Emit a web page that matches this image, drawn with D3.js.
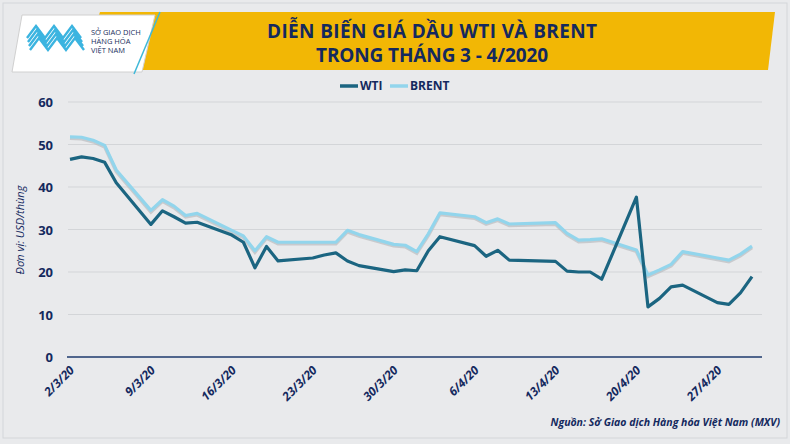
<!DOCTYPE html>
<html><head><meta charset="utf-8">
<script src="https://cdn.jsdelivr.net/npm/d3@7"></script>
<style>body{margin:0;background:#e8e9eb;}svg{display:block;font-family:"Open Sans",Roboto,sans-serif;}</style>
</head><body><svg id="c" width="790" height="444"></svg>
<script>
const dates = ["2020-03-02","2020-03-03","2020-03-04","2020-03-05","2020-03-06","2020-03-09","2020-03-10","2020-03-11","2020-03-12","2020-03-13","2020-03-16","2020-03-17","2020-03-18","2020-03-19","2020-03-20","2020-03-23","2020-03-24","2020-03-25","2020-03-26","2020-03-27","2020-03-30","2020-03-31","2020-04-01","2020-04-02","2020-04-03","2020-04-06","2020-04-07","2020-04-08","2020-04-09","2020-04-13","2020-04-14","2020-04-15","2020-04-16","2020-04-17","2020-04-20","2020-04-21","2020-04-22","2020-04-23","2020-04-24","2020-04-27","2020-04-28","2020-04-29","2020-04-30"];
const wti = [46.5,47.1,46.7,45.8,41,31.2,34.4,33,31.5,31.7,28.7,27,21,26,22.6,23.3,24,24.5,22.6,21.5,20.1,20.5,20.3,25,28.3,26.2,23.7,25.1,22.8,22.5,20.2,20,20,18.3,37.6,11.8,13.8,16.5,16.9,12.8,12.4,15.1,18.9];
const brent = [51.8,51.7,51,49.8,44,34.5,37,35.5,33.3,33.8,29.8,28.5,25,28.3,27,27,27,27,29.8,28.8,26.5,26.3,24.8,29,33.9,33,31.6,32.5,31.3,31.6,29.1,27.5,27.6,27.8,25.2,19.3,20.5,21.8,24.8,23.3,22.8,24.2,26.1];
const tickLabels = ["2/3/20","9/3/20","16/3/20","23/3/20","30/3/20","6/4/20","13/4/20","20/4/20","27/4/20"];
const tickDates = ["2020-03-02","2020-03-09","2020-03-16","2020-03-23","2020-03-30","2020-04-06","2020-04-13","2020-04-20","2020-04-27"];
const yTicks = [0,10,20,30,40,50,60];

const svg = d3.select("#c");
const navy = "#14295e";
const parse = d3.timeParse("%Y-%m-%d");
const x = d3.scaleTime().domain([parse(dates[0]), parse(dates[dates.length-1])]).range([70,752]);
const y = d3.scaleLinear().domain([0,60]).range([357,102]);

svg.append("rect").attr("width",790).attr("height",444).attr("fill","#e9eaec");
svg.append("rect").attr("x",3).attr("y",3).attr("width",784).attr("height",435).attr("fill","none").attr("stroke","#d4d6d9");

svg.append("path").attr("d","M100,12 L775,12 L768,70 L80,70 Z").attr("fill","#f2b705");
svg.append("path").attr("d","M22,15 L155,15 L142,72 L12,72 Z").attr("fill","#ffffff").attr("stroke","#d0d0d0");
svg.append("line").attr("x1",160).attr("y1",12).attr("x2",134).attr("y2",74).attr("stroke","#3fb8d8").attr("stroke-width",1.5);
const lg = svg.append("g").attr("fill","none").attr("stroke","#3bb4e0").attr("stroke-width",2.4);
for(let i=0;i<4;i++){lg.append("path").attr("d",`M27,44 l9,-12 l9,12 l9,-12 l9,12 l9,-12 l9,12`).attr("transform",`translate(${i*1},${i*4-6})`);}
const lt = svg.append("g").attr("fill","#1a2f5e").attr("font-size",7.5).attr("font-family","'Open Sans',sans-serif");
["SỞ GIAO DỊCH","HÀNG HÓA","VIỆT NAM"].forEach((t,i)=>lt.append("text").attr("x",91).attr("y",35+i*9).text(t));

const tt = svg.append("g").attr("fill",navy).attr("font-weight","bold").attr("font-size",19).attr("text-anchor","middle").attr("font-family","'Open Sans',sans-serif");
tt.append("text").attr("x",432).attr("y",38).attr("textLength",330).text("DIỄN BIẾN GIÁ DẦU WTI VÀ BRENT");
tt.append("text").attr("x",432).attr("y",62).attr("textLength",232).text("TRONG THÁNG 3 - 4/2020");

svg.append("g").selectAll("line").data(yTicks.filter(d=>d>0)).join("line")
 .attr("x1",68).attr("x2",762).attr("y1",d=>y(d)).attr("y2",d=>y(d)).attr("stroke","#d3d5d8").attr("stroke-width",1);
svg.append("line").attr("x1",67).attr("x2",762).attr("y1",y(0)).attr("y2",y(0)).attr("stroke","#1d3a6e").attr("stroke-width",1.5);

svg.append("g").selectAll("text").data(yTicks).join("text")
 .attr("x",53).attr("y",d=>y(d)+5).attr("text-anchor","end").attr("font-size",13).attr("font-weight","bold").attr("fill",navy).text(d=>d);
svg.append("text").attr("transform","translate(24,230) rotate(-90)").attr("text-anchor","middle")
 .attr("font-size",11).attr("font-style","italic").attr("fill",navy).text("Đơn vị: USD/thùng");

svg.append("g").selectAll("text").data(tickDates).join("text")
 .attr("transform",(d,i)=>`translate(${x(parse(d))+5},${y(0)+14}) rotate(-45)`)
 .attr("text-anchor","end").attr("font-size",12).attr("font-weight","bold").attr("font-style","italic").attr("fill",navy)
 .text((d,i)=>tickLabels[i]);

const line = vals => d3.line().x((d,i)=>x(parse(dates[i]))).y(d=>y(d))(vals);
svg.append("path").attr("d",line(brent)).attr("fill","none").attr("stroke","#b9bcc0").attr("stroke-width",3.5).attr("transform","translate(0,1.5)").attr("opacity",0.7);
svg.append("path").attr("d",line(brent)).attr("fill","none").attr("stroke","#92d5ec").attr("stroke-width",3.2).attr("stroke-linejoin","round");
svg.append("path").attr("d",line(wti)).attr("fill","none").attr("stroke","#1b6581").attr("stroke-width",3.2).attr("stroke-linejoin","round");

const lgd = svg.append("g").attr("font-size",12).attr("font-weight","bold").attr("fill",navy);
lgd.append("line").attr("x1",340).attr("x2",358).attr("y1",86).attr("y2",86).attr("stroke","#1b6581").attr("stroke-width",3.5);
lgd.append("text").attr("x",360).attr("y",90).text("WTI");
lgd.append("line").attr("x1",390).attr("x2",408).attr("y1",86).attr("y2",86).attr("stroke","#92d5ec").attr("stroke-width",3.5);
lgd.append("text").attr("x",410).attr("y",90).text("BRENT");

svg.append("text").attr("x",780).attr("y",426).attr("text-anchor","end").attr("font-size",10.5).attr("font-weight","bold").attr("font-style","italic").attr("fill",navy)
 .text("Nguồn: Sở Giao dịch Hàng hóa Việt Nam (MXV)");
</script></body></html>
